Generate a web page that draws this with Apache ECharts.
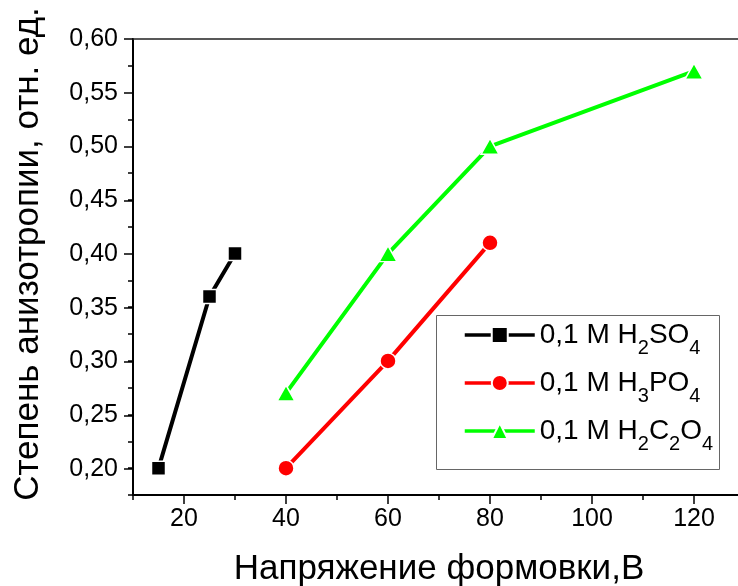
<!DOCTYPE html>
<html>
<head>
<meta charset="utf-8">
<script src="https://cdn.jsdelivr.net/npm/echarts@6/dist/echarts.min.js"></script>
<style>
  html, body { margin: 0; padding: 0; background: #fff; }
  #chart { width: 738px; height: 586px; }
</style>
</head>
<body>
<div id="chart"></div>
<script>
// data
var sulfX = [15, 25, 30];
var sulfY = [0.20, 0.36, 0.40];
var phosX = [40, 60, 80];
var phosY = [0.20, 0.30, 0.41];
var oxalX = [40, 60, 80, 120];
var oxalY = [0.27, 0.40, 0.50, 0.57];

var seriesNames = ['0,1 M H2SO4', '0,1 M H3PO4', '0,1 M H2C2O4'];
// legend text with subscripts
var legendRich = {
  '0,1 M H2SO4': '{n|0,1 M H}{s|2}{n|SO}{s|4}',
  '0,1 M H3PO4': '{n|0,1 M H}{s|3}{n|PO}{s|4}',
  '0,1 M H2C2O4': '{n|0,1 M H}{s|2}{n|C}{s|2}{n|O}{s|4}'
};

var xTitle = 'Напряжение формовки,В';
var yTitle = 'Степень анизотропии, отн. ед.';

var FONT = '"Liberation Sans", Arial, sans-serif';

function pairs(xs, ys) {
  var out = [];
  for (var i = 0; i < xs.length; i++) out.push([xs[i], ys[i]]);
  return out;
}

var myChart = echarts.init(document.getElementById('chart'));

var option = {
  animation: false,
  backgroundColor: '#fff',
  grid: [
    // data grid: x 10..130, y 0.175..0.60
    { left: 133, top: 39, width: 612, height: 456, outerBoundsMode: 'none' },
    // label grid: x 20..130, y 0.20..0.60 (major ticks + labels)
    { left: 184, top: 39, width: 561, height: 430, outerBoundsMode: 'none' }
  ],
  // legend frame
  graphic: [{
    type: 'rect', left: 434, top: 313, z: 5,
    shape: { width: 283, height: 154 },
    style: { fill: 'none', stroke: '#666', lineWidth: 1 }
  }],
  xAxis: [
    {
      type: 'value', gridIndex: 0, position: 'bottom',
      min: 10, max: 130, interval: 10,
      axisLine: { lineStyle: { color: '#000', width: 2 } },
      axisTick: { length: 5, lineStyle: { color: '#000', width: 1.5 } },
      axisLabel: { show: false },
      splitLine: { show: false },
      name: xTitle, nameLocation: 'middle', nameGap: 57,
      nameTextStyle: { color: '#000', fontSize: 35, fontFamily: FONT }
    },
    {
      type: 'value', gridIndex: 0, position: 'top',
      min: 10, max: 130, interval: 10,
      axisLine: { lineStyle: { color: '#222', width: 1.5 } },
      axisTick: { show: false },
      axisLabel: { show: false },
      splitLine: { show: false }
    },
    {
      type: 'value', gridIndex: 1, position: 'bottom', offset: 26,
      min: 20, max: 130, interval: 20,
      axisLine: { show: false },
      axisTick: { length: 9, lineStyle: { color: '#000', width: 1.5 } },
      axisLabel: {
        margin: 12, color: '#000', fontSize: 25, fontFamily: FONT,
        formatter: function (v) { return v % 20 === 0 ? String(v) : ''; }
      },
      splitLine: { show: false }
    }
  ],
  yAxis: [
    {
      type: 'value', gridIndex: 0, position: 'left',
      min: 0.175, max: 0.6, interval: 0.025,
      axisLine: { lineStyle: { color: '#000', width: 2 } },
      axisTick: { length: 5, lineStyle: { color: '#000', width: 1.5 } },
      axisLabel: { show: false },
      splitLine: { show: false }
    },
    {
      type: 'value', gridIndex: 1, position: 'left', offset: 51,
      min: 0.2, max: 0.6, interval: 0.05,
      axisLine: { show: false },
      axisTick: { length: 9, lineStyle: { color: '#000', width: 1.5 } },
      axisLabel: {
        margin: 15, color: '#000', fontSize: 25, fontFamily: FONT,
        formatter: function (v) { return v.toFixed(2).replace('.', ','); }
      },
      splitLine: { show: false },
      name: yTitle, nameLocation: 'middle', nameGap: 87,
      nameTextStyle: { color: '#000', fontSize: 35, fontFamily: FONT }
    }
  ],
  legend: {
    orient: 'vertical',
    left: 463, top: 312,
    padding: 0,
    itemWidth: 70, itemHeight: 20, itemGap: 2,
    lineStyle: { width: 3.5 },
    data: seriesNames,
    formatter: function (name) { return legendRich[name]; },
    textStyle: {
      color: '#000', fontFamily: FONT,
      rich: {
        n: { fontSize: 28, lineHeight: 28, fontFamily: FONT, color: '#000' },
        s: { fontSize: 20, lineHeight: 10, padding: [26, 0, 0, 0], fontFamily: FONT, color: '#000' }
      }
    }
  },
  series: [
    {
      name: seriesNames[0], type: 'line', xAxisIndex: 0, yAxisIndex: 0,
      data: pairs(sulfX, sulfY),
      symbol: 'rect', symbolSize: 14,
      lineStyle: { color: '#000', width: 4 },
      itemStyle: { color: '#000', borderColor: '#fff', borderWidth: 1.5 }
    },
    {
      name: seriesNames[1], type: 'line', xAxisIndex: 0, yAxisIndex: 0,
      data: pairs(phosX, phosY),
      symbol: 'circle', symbolSize: 16,
      lineStyle: { color: '#ff0000', width: 4 },
      itemStyle: { color: '#ff0000', borderColor: '#fff', borderWidth: 1.5 }
    },
    {
      name: seriesNames[2], type: 'line', xAxisIndex: 0, yAxisIndex: 0,
      data: pairs(oxalX, oxalY),
      symbol: 'triangle', symbolSize: [18, 16],
      lineStyle: { color: '#00ff00', width: 4 },
      itemStyle: { color: '#00ff00', borderColor: '#fff', borderWidth: 1.5 }
    }
  ]
};

myChart.setOption(option);
</script>
</body>
</html>
